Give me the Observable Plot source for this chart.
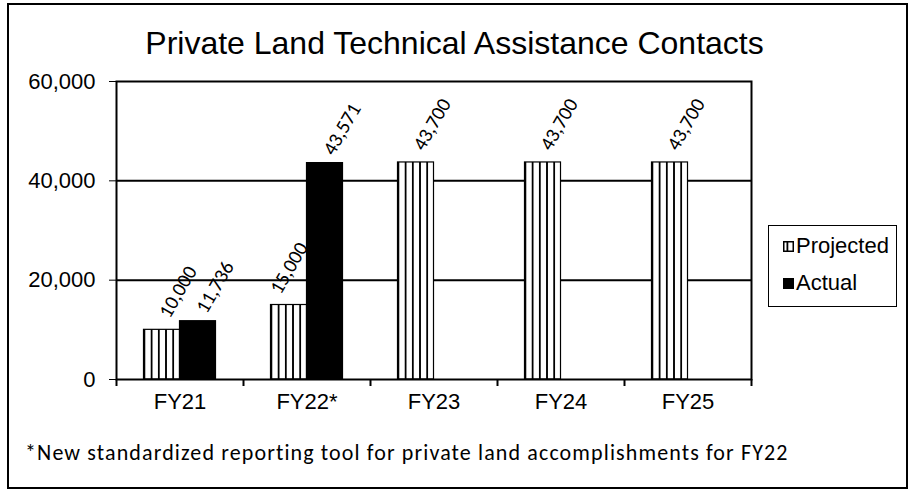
<!DOCTYPE html>
<html>
<head>
<meta charset="utf-8">
<script src="https://cdn.jsdelivr.net/npm/d3@7"></script>
<script src="https://cdn.jsdelivr.net/npm/@observablehq/plot@0.6"></script>
<style>
  html, body { margin: 0; padding: 0; background: #fff; }
  #wrap { position: relative; width: 909px; height: 491px; overflow: hidden; font-family: "Liberation Sans", Arial, sans-serif; color: #000; }
  #border { position: absolute; left: 7px; top: 3px; width: 901px; height: 486px; border: 2px solid #000; box-sizing: border-box; }
  #title { position: absolute; left: 0; top: 25px; width: 909px; text-align: center; font-size: 32px; line-height: 36px; }
  #note { position: absolute; left: 25px; top: 440px; font-family: Carlito, Lato, sans-serif; font-size: 22px; letter-spacing: 1.12px; line-height: 26px; white-space: nowrap; }
  #legend { position: absolute; left: 768px; top: 225px; width: 129px; height: 82px; border: 1.5px solid #000; box-sizing: border-box; font-size: 22px; }
  .lrow { position: absolute; left: 14px; display: flex; align-items: center; white-space: nowrap; line-height: 26px; }
  .lrow svg { margin-right: 2px; }
  #chart { position: absolute; left: 0; top: 0; }
</style>
</head>
<body>
<div id="wrap">
  <div id="chart"></div>
  <div id="border"></div>
  <div id="title">Private Land Technical Assistance Contacts</div>
  <div id="legend">
    <div class="lrow" style="top:7px"><svg width="11" height="11"><rect x="0.75" y="0.75" width="9.5" height="9.5" fill="#fff" stroke="#000" stroke-width="1.5"/><rect x="3.5" y="1" width="1.8" height="9" fill="#000"/></svg>Projected</div>
    <div class="lrow" style="top:44px"><svg width="11" height="11"><rect x="0" y="0" width="11" height="11" fill="#000"/></svg>Actual</div>
  </div>
  <div id="note">*New standardized reporting tool for private land accomplishments for FY22</div>
</div>
<script>
const categories = ["FY21", "FY22*", "FY23", "FY24", "FY25"];
const projected = [10000, 15000, 43700, 43700, 43700];
const actual = [11736, 43571, null, null, null];
const yTicks = [0, 20000, 40000, 60000];
const gridValues = [20000, 40000];

const rows = categories.map((c, i) => ({category: c, projected: projected[i], actual: actual[i]}));
const actualRows = rows.filter(d => d.actual != null);
// projected labels that would collide with a much taller neighbouring "actual" bar are nudged left (as Excel does)
const blocked = d => d.actual != null && d.actual - d.projected > 20000;
const projFree = rows.filter(d => !blocked(d));
const projBlocked = rows.filter(blocked);
const fmt = d3.format(",");

const labelStyle = {rotate: -60, textAnchor: "middle", lineAnchor: "middle", fontSize: 20, fontFamily: "Carlito, Lato, sans-serif", fill: "#000"};

const chart = Plot.plot({
  width: 909,
  height: 491,
  marginLeft: 116,
  marginRight: 158,
  marginTop: 81,
  marginBottom: 112,
  style: {fontFamily: "'Liberation Sans', Arial, sans-serif", fontSize: "22px", color: "#000", background: "transparent"},
  x: {domain: categories, padding: 0, label: null, tickSize: 0, tickPadding: 14},
  y: {domain: [0, 60000], ticks: yTicks, tickFormat: d => fmt(d), tickSize: 7, tickPadding: 14, label: null},
  marks: [
    Plot.ruleY(gridValues, {stroke: "#000", strokeWidth: 2}),
    Plot.barY(rows, {x: "category", y: "projected", fill: "url(#vstripes)", stroke: "#000", strokeWidth: 1.2, insetLeft: 27.5, insetRight: 63.5}),
    Plot.barY(actualRows, {x: "category", y: "actual", fill: "#000", stroke: "#000", strokeWidth: 1.2, insetLeft: 63.5, insetRight: 27.5}),
    Plot.ruleX(categories, {x: d => d, y1: 0, y2: 0, dx: -63.5, insetBottom: -7, stroke: "#000", strokeWidth: 2}),
    Plot.ruleX(categories.slice(-1), {x: d => d, y1: 0, y2: 0, dx: 63.5, insetBottom: -7, stroke: "#000", strokeWidth: 2}),
    Plot.frame({stroke: "#000", strokeWidth: 2}),
    Plot.text(projFree, {x: "category", y: "projected", text: d => fmt(d.projected), dx: -2, dy: -38, ...labelStyle}),
    Plot.text(projBlocked, {x: "category", y: "projected", text: d => fmt(d.projected), dx: -18, dy: -37, ...labelStyle}),
    Plot.text(actualRows, {x: "category", y: "actual", text: d => fmt(d.actual), dx: 35, dy: -34, ...labelStyle})
  ]
});

const svg = d3.select(chart.tagName.toLowerCase() === "svg" ? chart : chart.querySelector("svg"));
const defs = svg.insert("defs", ":first-child");
const pat = defs.append("pattern")
  .attr("id", "vstripes")
  .attr("patternUnits", "objectBoundingBox")
  .attr("width", 0.2)
  .attr("height", 1);
pat.append("rect").attr("x", 0).attr("y", 0).attr("width", 100).attr("height", 1000).attr("fill", "#fff");
pat.append("rect").attr("x", 0).attr("y", 0).attr("width", 1.8).attr("height", 1000).attr("fill", "#000");

document.getElementById("chart").appendChild(chart);
</script>
</body>
</html>
